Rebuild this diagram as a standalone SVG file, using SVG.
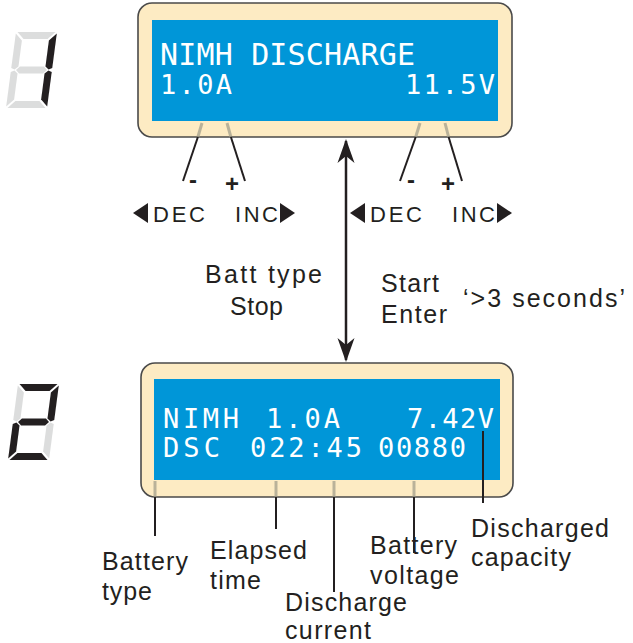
<svg xmlns="http://www.w3.org/2000/svg" xmlns:xlink="http://www.w3.org/1999/xlink" width="633" height="643" viewBox="0 0 633 643">
  <style>
    .panel { fill: #fdebc3; stroke: #4a4a4a; stroke-width: 1.6; }
    .lcd { fill: #0096d8; }
    .lcdtxt { font-family: "DejaVu Sans Mono", "Liberation Mono", monospace; fill: #ffffff; }
    .lbl { font-family: "Liberation Sans", Arial, sans-serif; fill: #231f20; font-size: 25px; }
    .key { font-family: "Liberation Sans", Arial, sans-serif; fill: #231f20; font-size: 22px; }
    .sign { font-family: "Liberation Sans", Arial, sans-serif; fill: #231f20; font-size: 24px; font-weight: bold; }
    .lead { stroke: #231f20; stroke-width: 2; fill: none; }
    .ghost { stroke: #9c9a88; stroke-width: 3; fill: none; opacity: 0.7; }
    .tri { fill: #231f20; }
    .on { fill: #231f20; }
    .off { fill: #dcdddd; }
    .arrow { stroke: #231f20; stroke-width: 2.5; fill: none; }
  </style>
  <defs>
    <polygon id="sa" points="1.5,0 39.5,0 32.5,7 8.5,7"/>
    <polygon id="sb" points="41,1.5 41,36 37.5,37.5 34,34.5 34,8.5"/>
    <polygon id="sc" points="41,40 41,74.5 34,67.5 34,41.5 37.5,38.5"/>
    <polygon id="sd" points="8.5,69 32.5,69 39.5,76 1.5,76"/>
    <polygon id="se" points="0,40 3.5,38.5 7,41.5 7,67.5 0,74.5"/>
    <polygon id="sf" points="0,1.5 7,8.5 7,34.5 3.5,37.5 0,36"/>
    <polygon id="sg" points="5,38 8.5,34.5 32.5,34.5 36,38 32.5,41.5 8.5,41.5"/>
    <marker id="barb" viewBox="0 -9 24 18" refX="22" refY="0" markerWidth="24" markerHeight="18" markerUnits="userSpaceOnUse" orient="auto-start-reverse">
      <path d="M0,-8.5 L24,0 L0,8.5 L7,0 Z" fill="#231f20"/>
    </marker>
  </defs>

  <!-- step digit 1 -->
  <g id="digit1" transform="translate(16,32) skewX(-7.5)">
    <use xlink:href="#sa" class="off"/>
    <use xlink:href="#sb" class="on"/>
    <use xlink:href="#sc" class="on"/>
    <use xlink:href="#sd" class="off"/>
    <use xlink:href="#se" class="off"/>
    <use xlink:href="#sf" class="off"/>
    <use xlink:href="#sg" class="off"/>
  </g>

  <!-- step digit 2 -->
  <g id="digit2" transform="translate(18,384) skewX(-7.5)">
    <use xlink:href="#sa" class="on"/>
    <use xlink:href="#sb" class="on"/>
    <use xlink:href="#sc" class="off"/>
    <use xlink:href="#sd" class="on"/>
    <use xlink:href="#se" class="on"/>
    <use xlink:href="#sf" class="off"/>
    <use xlink:href="#sg" class="on"/>
  </g>

  <!-- top display -->
  <g id="display-top">
    <rect class="panel" x="138" y="3" width="374" height="134" rx="14" ry="14"/>
    <rect class="lcd" x="152" y="20" width="346" height="101"/>
    <text class="lcdtxt" x="160" y="65" font-size="30" textLength="255" lengthAdjust="spacing">NIMH DISCHARGE</text>
    <text class="lcdtxt" x="160" y="94" font-size="27" textLength="72" lengthAdjust="spacing">1.0A</text>
    <text class="lcdtxt" x="405" y="94" font-size="27" textLength="90" lengthAdjust="spacing">11.5V</text>
  </g>

  <!-- bottom display -->
  <g id="display-bottom">
    <rect class="panel" x="141" y="363" width="372" height="134" rx="14" ry="14"/>
    <rect class="lcd" x="154" y="379" width="346" height="101"/>
    <text class="lcdtxt" x="163" y="428" font-size="27" textLength="76" lengthAdjust="spacing">NIMH</text>
    <text class="lcdtxt" x="266" y="428" font-size="27" textLength="74" lengthAdjust="spacing">1.0A</text>
    <text class="lcdtxt" x="407" y="428" font-size="27" textLength="87" lengthAdjust="spacing">7.42V</text>
    <text class="lcdtxt" x="163" y="457" font-size="27" textLength="57" lengthAdjust="spacing">DSC</text>
    <text class="lcdtxt" x="250" y="457" font-size="27" textLength="112" lengthAdjust="spacing">022:45</text>
    <text class="lcdtxt" x="378" y="457" font-size="27" textLength="88" lengthAdjust="spacing">00880</text>
  </g>

  <!-- connectors -->
  <g id="connectors">
    <!-- top knobs -->
    <line class="ghost" x1="202" y1="123" x2="197.9" y2="137"/>
    <line class="lead" x1="197.9" y1="137" x2="183" y2="181"/>
    <line class="ghost" x1="227" y1="123" x2="230.9" y2="137"/>
    <line class="lead" x1="230.9" y1="137" x2="245" y2="181"/>
    <line class="ghost" x1="420" y1="123" x2="415.7" y2="137"/>
    <line class="lead" x1="415.7" y1="137" x2="400" y2="181"/>
    <line class="ghost" x1="445" y1="123" x2="448.6" y2="137"/>
    <line class="lead" x1="448.6" y1="137" x2="462" y2="181"/>
    <!-- flow arrow between screens -->
    <line class="arrow" x1="346" y1="141" x2="346" y2="360" marker-start="url(#barb)" marker-end="url(#barb)"/>
    <!-- bottom leaders -->
    <line class="ghost" x1="155" y1="481" x2="155" y2="497"/>
    <line class="lead" x1="155" y1="497" x2="155" y2="536"/>
    <line class="ghost" x1="276" y1="481" x2="276" y2="497"/>
    <line class="lead" x1="276" y1="497" x2="276" y2="529"/>
    <line class="ghost" x1="334" y1="481" x2="334" y2="497"/>
    <line class="lead" x1="334" y1="497" x2="334" y2="592"/>
    <line class="ghost" x1="414" y1="481" x2="414" y2="497"/>
    <line class="lead" x1="414" y1="497" x2="414" y2="553"/>
    <line class="lead" x1="483" y1="431" x2="483" y2="503"/>
  </g>

  <!-- key labels -->
  <g id="keys-left">
    <text class="sign" x="189" y="188">-</text>
    <text class="sign" x="225" y="192">+</text>
    <polygon class="tri" points="148,203 148,223 133,213"/>
    <text class="key" x="153" y="222" textLength="52" lengthAdjust="spacing">DEC</text>
    <text class="key" x="235" y="222" textLength="43" lengthAdjust="spacing">INC</text>
    <polygon class="tri" points="280,203 280,223 295,213"/>
  </g>
  <g id="keys-right">
    <text class="sign" x="407" y="188">-</text>
    <text class="sign" x="441" y="192">+</text>
    <polygon class="tri" points="365,203 365,223 350,213"/>
    <text class="key" x="370" y="222" textLength="52" lengthAdjust="spacing">DEC</text>
    <text class="key" x="452" y="222" textLength="43" lengthAdjust="spacing">INC</text>
    <polygon class="tri" points="497,203 497,223 512,213"/>
  </g>

  <!-- transition labels -->
  <g id="transition-labels">
    <text class="lbl" x="205" y="283" textLength="117" lengthAdjust="spacing">Batt type</text>
    <text class="lbl" x="230" y="315" textLength="53" lengthAdjust="spacing">Stop</text>
    <text class="lbl" x="381" y="292" textLength="58" lengthAdjust="spacing">Start</text>
    <text class="lbl" x="381" y="323" textLength="66" lengthAdjust="spacing">Enter</text>
    <text class="lbl" x="463" y="307" textLength="162" lengthAdjust="spacing">‘&gt;3 seconds’</text>
  </g>

  <!-- field labels -->
  <g id="field-labels">
    <text class="lbl" x="102" y="570" textLength="86" lengthAdjust="spacing">Battery</text>
    <text class="lbl" x="102" y="600" textLength="50" lengthAdjust="spacing">type</text>
    <text class="lbl" x="210" y="559" textLength="97" lengthAdjust="spacing">Elapsed</text>
    <text class="lbl" x="210" y="589" textLength="51" lengthAdjust="spacing">time</text>
    <text class="lbl" x="285" y="611" textLength="122" lengthAdjust="spacing">Discharge</text>
    <text class="lbl" x="285" y="639" textLength="86" lengthAdjust="spacing">current</text>
    <text class="lbl" x="370" y="554" textLength="87" lengthAdjust="spacing">Battery</text>
    <text class="lbl" x="370" y="584" textLength="89" lengthAdjust="spacing">voltage</text>
    <text class="lbl" x="471" y="537" textLength="138" lengthAdjust="spacing">Discharged</text>
    <text class="lbl" x="471" y="566" textLength="100" lengthAdjust="spacing">capacity</text>
  </g>
</svg>
